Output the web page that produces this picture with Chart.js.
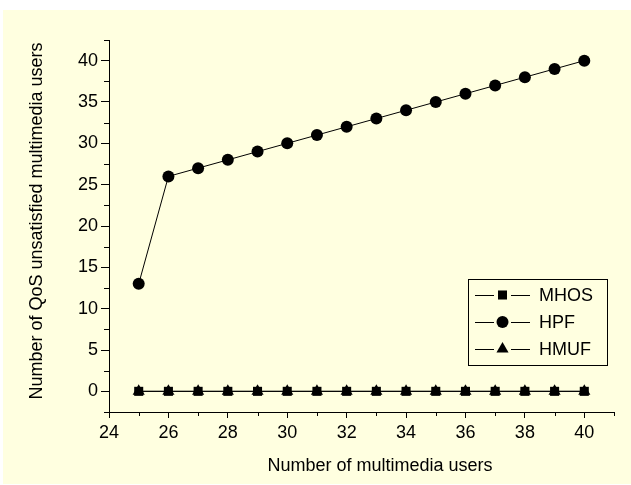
<!DOCTYPE html>
<html>
<head>
<meta charset="utf-8">
<script src="https://cdn.jsdelivr.net/npm/chart.js@4/dist/chart.umd.min.js"></script>
<style>
  html, body { margin: 0; padding: 0; background: #fff; }
  #wrap { width: 631px; height: 485px; }
</style>
</head>
<body>
<div id="wrap"><canvas id="qosChart" width="631" height="485"></canvas></div>
<script>
// data
const users = [25, 26, 27, 28, 29, 30, 31, 32, 33, 34, 35, 36, 37, 38, 39, 40];
const mhos = [0, 0, 0, 0, 0, 0, 0, 0, 0, 0, 0, 0, 0, 0, 0, 0];
const hpf = [13, 26, 27, 28, 29, 30, 31, 32, 33, 34, 35, 36, 37, 38, 39, 40];
const hmuf = [0, 0, 0, 0, 0, 0, 0, 0, 0, 0, 0, 0, 0, 0, 0, 0];

const xTicks = [24, 26, 28, 30, 32, 34, 36, 38, 40];
const xMinor = [25, 27, 29, 31, 33, 35, 37, 39, 41];
const yTicks = [0, 5, 10, 15, 20, 25, 30, 35, 40];
const yMinor = [-2.5, 2.5, 7.5, 12.5, 17.5, 22.5, 27.5, 32.5, 37.5, 42.5];

const xTitle = 'Number of multimedia users';
const yTitle = 'Number of QoS unsatisfied multimedia users';

const FONT = '18px "Liberation Sans", Arial, sans-serif';

const toPoints = ys => users.map((x, i) => ({ x: x, y: ys[i] }));

// page background (light yellow panel)
const panelBg = {
  id: 'panelBg',
  beforeDraw(chart) {
    const ctx = chart.ctx;
    ctx.save();
    ctx.fillStyle = '#FFFFE0';
    ctx.fillRect(3, 10, 628, 474);
    ctx.restore();
  }
};

// minor ticks + axis titles
const axisExtras = {
  id: 'axisExtras',
  afterDraw(chart) {
    const ctx = chart.ctx;
    const xs = chart.scales.x, ys = chart.scales.y;
    const area = chart.chartArea;
    ctx.save();
    ctx.strokeStyle = '#000';
    ctx.lineWidth = 1;
    ctx.beginPath();
    xMinor.forEach(v => {
      const px = Math.round(xs.getPixelForValue(v)) + 0.5;
      ctx.moveTo(px, area.bottom);
      ctx.lineTo(px, area.bottom + 4);
    });
    yMinor.forEach(v => {
      const py = Math.round(ys.getPixelForValue(v)) + 0.5;
      ctx.moveTo(area.left, py);
      ctx.lineTo(area.left - 5, py);
    });
    ctx.stroke();

    ctx.fillStyle = '#000';
    ctx.font = FONT;
    ctx.textAlign = 'center';
    ctx.textBaseline = 'middle';
    ctx.fillText(xTitle, 380, 466);
    ctx.translate(37, 221);
    ctx.rotate(-Math.PI / 2);
    ctx.fillText(yTitle, 0, 0);
    ctx.restore();
  }
};

// boxed legend: line - gap - marker - gap - line, label
const boxLegend = {
  id: 'boxLegend',
  afterDraw(chart) {
    const ctx = chart.ctx;
    ctx.save();
    ctx.strokeStyle = '#000';
    ctx.lineWidth = 1;
    ctx.strokeRect(468.5, 279.5, 139, 86);
    ctx.font = FONT;
    ctx.textBaseline = 'middle';
    ctx.textAlign = 'left';
    chart.data.datasets.forEach((ds, i) => {
      const y = 295 + i * 27;
      ctx.strokeStyle = '#000';
      ctx.lineWidth = 1;
      ctx.beginPath();
      ctx.moveTo(475, y + 0.5);
      ctx.lineTo(494, y + 0.5);
      ctx.moveTo(511, y + 0.5);
      ctx.lineTo(530, y + 0.5);
      ctx.stroke();
      ctx.fillStyle = ds.pointBackgroundColor;
      ctx.strokeStyle = ds.pointBorderColor;
      Chart.helpers.drawPoint(ctx, {
        pointStyle: ds.pointStyle,
        radius: ds.pointRadius,
        rotation: 0,
        borderWidth: 0
      }, 502.5, y);
      ctx.fillStyle = '#000';
      ctx.fillText(ds.label, 539, y + 1);
    });
    ctx.restore();
  }
};

const ctx = document.getElementById('qosChart').getContext('2d');
const qosChart = new Chart(ctx, {
  type: 'line',
  data: {
    datasets: [
      {
        label: 'MHOS',
        data: toPoints(mhos),
        borderColor: '#000',
        borderWidth: 1,
        pointStyle: 'rect',
        pointRadius: 6.4,
        pointBackgroundColor: '#000',
        pointBorderColor: '#000',
        pointBorderWidth: 0
      },
      {
        label: 'HPF',
        data: toPoints(hpf),
        borderColor: '#000',
        borderWidth: 1,
        pointStyle: 'circle',
        pointRadius: 6,
        pointBackgroundColor: '#000',
        pointBorderColor: '#000',
        pointBorderWidth: 0
      },
      {
        label: 'HMUF',
        data: toPoints(hmuf),
        borderColor: '#000',
        borderWidth: 1,
        pointStyle: 'triangle',
        pointRadius: 7,
        pointBackgroundColor: '#000',
        pointBorderColor: '#000',
        pointBorderWidth: 0
      }
    ]
  },
  options: {
    responsive: false,
    animation: false,
    clip: false,
    layout: { padding: { left: 0, top: 40, right: 17, bottom: 0 } },
    plugins: {
      legend: { display: false },
      tooltip: { enabled: false }
    },
    scales: {
      x: {
        type: 'linear',
        min: 24,
        max: 41,
        afterBuildTicks: scale => { scale.ticks = xTicks.map(v => ({ value: v })); },
        afterFit: scale => { scale.height = 73; },
        grid: { drawOnChartArea: false, drawTicks: true, tickLength: 6, tickColor: '#000' },
        border: { display: true, color: '#000', width: 1 },
        ticks: { color: '#000', font: { family: '"Liberation Sans", Arial, sans-serif', size: 18 }, padding: 4, maxRotation: 0 }
      },
      y: {
        type: 'linear',
        min: -2.5,
        max: 42.5,
        afterBuildTicks: scale => { scale.ticks = yTicks.map(v => ({ value: v })); },
        afterFit: scale => { scale.width = 109; },
        grid: { drawOnChartArea: false, drawTicks: true, tickLength: 8, tickColor: '#000' },
        border: { display: true, color: '#000', width: 1 },
        ticks: { color: '#000', font: { family: '"Liberation Sans", Arial, sans-serif', size: 18 }, padding: 3 }
      }
    }
  },
  plugins: [panelBg, axisExtras, boxLegend]
});
</script>
</body>
</html>
